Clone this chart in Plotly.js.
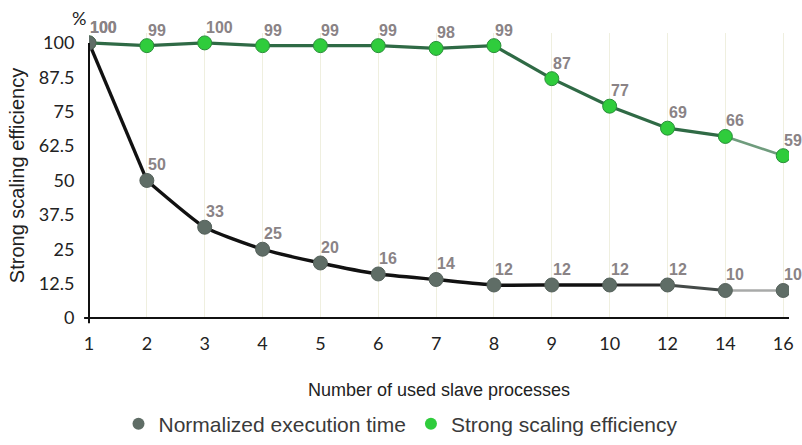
<!DOCTYPE html>
<html><head><meta charset="utf-8">
<script src="https://cdn.plot.ly/plotly-3.0.1.min.js"></script>
<style>body{margin:0;background:#fff}#c{width:802px;height:445px}</style>
</head><body><div id="c"></div>
<script>
const processes = ['1','2','3','4','5','6','7','8','9','10','12','14','16'];
const execTime = [100,50,33,25,20,16,14,12,12,12,12,10,10];
const efficiency = [100,99,100,99,99,99,98,99,87,77,69,66,59];
const yTicks = [0,12.5,25,37.5,50,62.5,75,87.5,100];
const yTickText = ['0','12.5','25','37.5','50','62.5','75','87.5','100'];

function seg(xs, ys, a, b, color, shape, width) {
  return {x: xs.slice(a, b + 1), y: ys.slice(a, b + 1), mode: 'lines', type: 'scatter',
    line: {color: color, width: width || 3.2, shape: shape || 'linear', smoothing: 0.5},
    showlegend: false, hoverinfo: 'skip'};
}

const traces = [
  seg(processes, efficiency, 0, 11, '#2f6a45', 'linear', 3.2),
  seg(processes, efficiency, 11, 12, '#6f9c7d', 'linear', 2.6),
  {x: processes, y: efficiency, mode: 'markers', type: 'scatter', name: 'Strong scaling efficiency',
    marker: {size: 14, color: '#2fcc3c', line: {color: '#2a8e3a', width: 1}}, showlegend: false},
  seg(processes, execTime, 0, 1, '#111111', 'linear', 3.4),
  seg(processes, execTime, 1, 9, '#111111', 'spline', 3.4),
  seg(processes, execTime, 9, 10, '#2a2a2a', 'linear', 3.2),
  seg(processes, execTime, 10, 11, '#444a48', 'linear', 3),
  seg(processes, execTime, 11, 12, '#a8aaa9', 'linear', 2.6),
  {x: processes, y: execTime, mode: 'markers', type: 'scatter', name: 'Normalized execution time',
    marker: {size: 14, color: '#5f6d66', line: {color: '#55615b', width: 1}}, showlegend: false},
  {x: [null], y: [null], mode: 'markers', type: 'scatter', name: 'Normalized execution time',
    marker: {size: 12, color: '#5f6d66'}, legendrank: 1},
  {x: [null], y: [null], mode: 'markers', type: 'scatter', name: 'Strong scaling efficiency',
    marker: {size: 12, color: '#2fcc3c'}, legendrank: 2}
];

const labelFont = {family: 'Liberation Sans, Arial, sans-serif', size: 16, color: '#8a8386', weight: 'bold'};
const annotations = [];
processes.forEach((p, i) => {
  annotations.push({x: i, y: efficiency[i], xref: 'x', yref: 'y', text: String(efficiency[i]),
    showarrow: false, xanchor: 'left', yanchor: 'bottom', xshift: -1, yshift: 5, font: labelFont});
  annotations.push({x: i, y: execTime[i], xref: 'x', yref: 'y', text: String(execTime[i]),
    showarrow: false, xanchor: 'left', yanchor: 'bottom', xshift: -1, yshift: 5, font: labelFont});
});
annotations.push({xref: 'paper', yref: 'paper', x: 0, y: 1.0, text: '%', showarrow: false,
  xanchor: 'right', yanchor: 'bottom', xshift: -1, yshift: 2, font: {family: 'Lato, sans-serif', size: 18, color: '#222'}});

const layout = {
  width: 802, height: 445,
  margin: {l: 89, r: 13, t: 33, b: 127, autoexpand: false},
  paper_bgcolor: '#fff', plot_bgcolor: '#fff',
  showlegend: true,
  legend: {orientation: 'h', x: 0.5, xanchor: 'center', xref: 'container', y: 0.047, yanchor: 'middle', yref: 'container',
    font: {family: 'Liberation Sans, Arial, sans-serif', size: 21, color: '#3a3a3a'},
    itemwidth: 30, tracegroupgap: 0},
  xaxis: {type: 'category', categoryorder: 'array', categoryarray: processes,
    range: [0, 12.1], showgrid: true, gridcolor: '#efefdf', gridwidth: 1,
    showline: false, zeroline: false, ticks: 'outside', ticklen: 9, tickcolor: 'rgba(0,0,0,0)',
    tickfont: {family: 'Lato, sans-serif', size: 18, color: '#222'},
    title: {text: 'Number of used slave processes', standoff: 30,
      font: {family: 'Liberation Sans, Arial, sans-serif', size: 18, color: '#222'}}},
  yaxis: {range: [0, 103.6], tickvals: yTicks, ticktext: yTickText, showgrid: false,
    showline: false, zeroline: false, ticks: 'outside', ticklen: 10, tickcolor: 'rgba(0,0,0,0)',
    tickfont: {family: 'Lato, sans-serif', size: 18, color: '#222'},
    title: {text: 'Strong scaling efficiency', standoff: 8,
      font: {family: 'Liberation Sans, Arial, sans-serif', size: 20, color: '#222'}}},
  shapes: [
    {type: 'line', xref: 'paper', yref: 'paper', x0: -0.007, x1: 1, y0: 0, y1: 0,
      line: {color: '#111', width: 2}},
    {type: 'line', xref: 'paper', yref: 'paper', x0: 0, x1: 0, y0: -0.018, y1: 0.965,
      line: {color: '#111', width: 2}}
  ],
  annotations: annotations
};

Plotly.newPlot('c', traces, layout, {displayModeBar: false, staticPlot: true});
</script></body></html>
